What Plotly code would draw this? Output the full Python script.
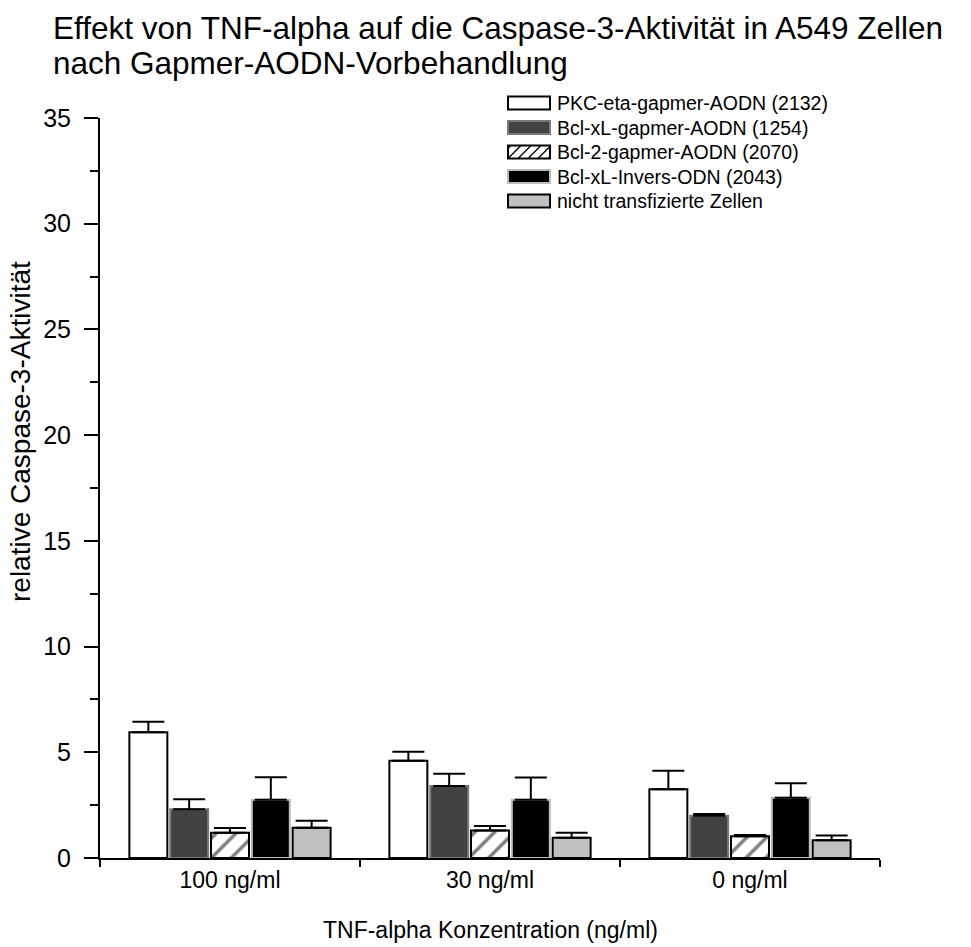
import plotly.graph_objects as go

categories = ["100 ng/ml", "30 ng/ml", "0 ng/ml"]
series_names = [
    "PKC-eta-gapmer-AODN (2132)",
    "Bcl-xL-gapmer-AODN (1254)",
    "Bcl-2-gapmer-AODN (2070)",
    "Bcl-xL-Invers-ODN (2043)",
    "nicht transfizierte Zellen",
]
pkc_eta = [5.95, 4.6, 3.25]
bclxl_gapmer = [2.3, 3.4, 2.0]
bcl2_gapmer = [1.2, 1.3, 1.03]
bclxl_invers = [2.75, 2.75, 2.85]
untransfected = [1.43, 0.96, 0.84]
series_values = [pkc_eta, bclxl_gapmer, bcl2_gapmer, bclxl_invers, untransfected]

pkc_eta_err = [0.5, 0.42, 0.88]
bclxl_gapmer_err = [0.48, 0.58, 0.08]
bcl2_gapmer_err = [0.22, 0.21, 0.06]
bclxl_invers_err = [1.07, 1.06, 0.69]
untransfected_err = [0.33, 0.24, 0.23]
series_errors = [pkc_eta_err, bclxl_gapmer_err, bcl2_gapmer_err, bclxl_invers_err, untransfected_err]

title_lines = ["Effekt von TNF-alpha auf die Caspase-3-Aktivität in A549 Zellen",
               "nach Gapmer-AODN-Vorbehandlung"]
y_title = "relative Caspase-3-Aktivität"
x_title = "TNF-alpha Konzentration (ng/ml)"

fills = ["#ffffff", "#424242", "#ffffff", "#000000", "#c0c0c0"]
outlines = ["#000000", "#7a7a7a", "#000000", "#bdbdbd", "#000000"]
patterns = ["", "", "/", "", ""]

FONT = "Liberation Sans, Arial, sans-serif"

fig = go.Figure()
for name, vals, errs, fc, lc, pat in zip(series_names, series_values, series_errors, fills, outlines, patterns):
    fig.add_trace(go.Bar(
        name=name, x=categories, y=vals,
        marker=dict(color=fc, line=dict(color=lc, width=2),
                    pattern=dict(shape=pat, fgcolor="#000000", bgcolor="#ffffff", size=14, solidity=0.25) if pat else None),
        error_y=dict(type="data", symmetric=False, array=errs, arrayminus=[0] * len(errs),
                     color="#000000", thickness=2, width=16),
        showlegend=False,
    ))

# custom legend (plot area: x 100..880 px, y 118..858 px)
PL, PR, PT, PB = 100, 880, 118, 858
def px_x(v):
    return (v - PL) / (PR - PL)
def px_y(v):
    return (PB - v) / (PB - PT)

shapes = []
annotations = []
row_y = [103, 127.5, 152, 176.5, 201]
for i, name in enumerate(series_names):
    yc = row_y[i]
    x0, x1 = 508, 550
    y0, y1 = yc - 6.5, yc + 6.5
    shapes.append(dict(type="rect", xref="paper", yref="paper",
                       x0=px_x(x0), x1=px_x(x1), y0=px_y(y1), y1=px_y(y0),
                       fillcolor=fills[i], line=dict(color=outlines[i], width=2)))
    if patterns[i] == "/":
        h = y1 - y0
        step = 10
        for k in range(-2, 7):
            ax0, ay0 = x0 + k * step, y1
            ax1, ay1 = ax0 + h, y0
            if ax0 < x0:
                ay0 = y1 - (x0 - ax0)
                ax0 = x0
            if ax1 > x1:
                ay1 = y0 + (ax1 - x1)
                ax1 = x1
            if ax1 <= ax0:
                continue
            shapes.append(dict(type="line", xref="paper", yref="paper",
                               x0=px_x(ax0), x1=px_x(ax1), y0=px_y(ay0), y1=px_y(ay1),
                               line=dict(color="#000000", width=1.3)))
    annotations.append(dict(text=name, xref="paper", yref="paper", x=px_x(555), y=px_y(yc),
                            xanchor="left", yanchor="middle", showarrow=False,
                            font=dict(family=FONT, size=19.5, color="#000000")))

for line, yc in zip(title_lines, [28, 63]):
    annotations.append(dict(text=line, xref="paper", yref="paper", x=px_x(51), y=px_y(yc),
                            xanchor="left", yanchor="middle", showarrow=False,
                            font=dict(family=FONT, size=31.5, color="#000000")))
annotations.append(dict(text=y_title, xref="paper", yref="paper",
                        x=px_x(20), y=px_y(432), xanchor="center", yanchor="middle",
                        textangle=-90, showarrow=False,
                        font=dict(family=FONT, size=28, color="#000000")))
annotations.append(dict(text=x_title, xref="paper", yref="paper",
                        x=px_x(490), y=px_y(930), xanchor="center", yanchor="middle",
                        showarrow=False, font=dict(family=FONT, size=23, color="#000000")))

fig.update_layout(
    width=971, height=947,
    margin=dict(l=PL, r=971 - PR, t=PT, b=947 - PB),
    paper_bgcolor="#ffffff", plot_bgcolor="#ffffff",
    barmode="group", bargap=0.215, bargroupgap=0.07,
    font=dict(family=FONT, color="#000000"),
    shapes=shapes, annotations=annotations,
    xaxis=dict(type="category", range=[-0.5, 2.5], showgrid=False, zeroline=False,
               showline=True, linecolor="#000000", linewidth=2,
               ticks="outside", tickson="boundaries", ticklen=7, tickwidth=2, tickcolor="#000000",
               tickfont=dict(family=FONT, size=23, color="#000000")),
    yaxis=dict(range=[0, 35], showgrid=False, zeroline=False,
               showline=True, linecolor="#000000", linewidth=2,
               ticks="outside", ticklen=14, tickwidth=2, tickcolor="#000000",
               tickvals=[0, 5, 10, 15, 20, 25, 30, 35],
               ticklabelstandoff=8,
               minor=dict(tickvals=[2.5, 7.5, 12.5, 17.5, 22.5, 27.5, 32.5], ticks="outside",
                          ticklen=8, tickwidth=2, tickcolor="#000000"),
               tickfont=dict(family=FONT, size=25, color="#000000")),
)

fig.write_html("out.html")
